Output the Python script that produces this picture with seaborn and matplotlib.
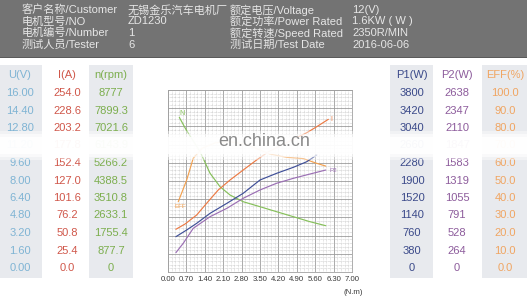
import numpy as np
import pandas as pd
import matplotlib
matplotlib.use("Agg")
import matplotlib.pyplot as plt
import seaborn as sns
from matplotlib.patches import Rectangle
from matplotlib.ticker import MultipleLocator

# ---------------- header info ----------------
info_labels_left = ["客户名称/Customer", "电机型号/NO", "电机编号/Number", "测试人员/Tester"]
info_values_left = ["无锡金乐汽车电机厂", "ZD1230", "1", "6"]
info_labels_right = ["额定电压/Voltage", "额定功率/Power Rated", "额定转速/Speed Rated", "测试日期/Test Date"]
info_values_right = ["12(V)", "1.6KW ( W )", "2350R/MIN", "2016-06-06"]

# ---------------- scale tables ----------------
U_scale = ["16.00", "14.40", "12.80", "11.20", "9.60", "8.00", "6.40", "4.80", "3.20", "1.60", "0.00"]
I_scale = ["254.0", "228.6", "203.2", "177.8", "152.4", "127.0", "101.6", "76.2", "50.8", "25.4", "0.0"]
n_scale = ["8777", "7899.3", "7021.6", "6143.9", "5266.2", "4388.5", "3510.8", "2633.1", "1755.4", "877.7", "0"]
P1_scale = ["3800", "3420", "3040", "2660", "2280", "1900", "1520", "1140", "760", "380", "0"]
P2_scale = ["2638", "2347", "2110", "1847", "1583", "1319", "1055", "791", "528", "264", "0"]
EFF_scale = ["100.0", "90.0", "80.0", "70.0", "60.0", "50.0", "40.0", "30.0", "20.0", "10.0", "0.0"]

torque_ticks = ["0.00", "0.70", "1.40", "2.10", "2.80", "3.50", "4.20", "4.90", "5.60", "6.30", "7.00"]

# ---------------- curves (torque N.m vs value) ----------------
n_T = [0.43, 0.68, 1.22, 1.60, 1.98, 2.36, 2.86, 3.50, 4.13, 4.77, 5.40, 6.00]
n_rpm = [7460, 6882, 5802, 4760, 4114, 3713, 3390, 3149, 2908, 2667, 2426, 2233]

I_T = [0.30, 0.65, 1.09, 1.47, 1.91, 2.36, 2.86, 3.37, 3.82, 5.28, 5.66, 6.10]
I_A = [59.6, 67.0, 79.5, 95.9, 114.4, 128.4, 142.3, 156.3, 167.9, 194.4, 202.8, 213.1]

EFF_T = [0.39, 0.71, 0.96, 1.30, 1.80, 2.40, 3.00, 3.50, 3.88, 4.52, 5.15, 5.66, 6.00]
EFF_pct = [38.6, 50.5, 62.5, 68.0, 71.0, 71.5, 70.0, 67.0, 64.8, 63.0, 62.3, 59.7, 58.2]

P1_T = [0.30, 0.71, 1.09, 1.60, 2.24, 2.86, 3.50, 4.13, 4.77, 5.28, 5.66]
P1_W = [737, 877, 1016, 1225, 1434, 1643, 1921, 2060, 2186, 2303, 2443]

P2_T = [0.30, 0.58, 0.96, 1.60, 2.24, 2.86, 3.50, 4.13, 4.77, 5.40, 6.00]
P2_W = [280, 416, 633, 802, 923, 1068, 1189, 1286, 1358, 1420, 1478]

# ---------------- style ----------------
sns.set_theme(style="white")
plt.rcParams['font.family'] = ['Liberation Sans', 'Noto Sans CJK SC', 'DejaVu Sans']

W, H = 527, 301
fig = plt.figure(figsize=(W / 100, H / 100), dpi=100)
fig.patch.set_facecolor("white")


def fx(px):
    return px / W


def fy(py):
    return 1 - py / H


# header band
fig.add_artist(Rectangle((0, fy(57)), 1, 57 / H, transform=fig.transFigure,
                         facecolor="#737373", edgecolor="none", zorder=0))
fig.add_artist(Rectangle((0, fy(58)), 1, 1.2 / H, transform=fig.transFigure,
                         facecolor="#5a5a5a", edgecolor="none", zorder=0))
hdr_rows = [10, 21.5, 33, 44.5]
hc = "#e6e6e6"
for i, py in enumerate(hdr_rows):
    fig.text(fx(22), fy(py), info_labels_left[i], color=hc, fontsize=8, va="center", ha="left")
    fig.text(fx(128), fy(py), info_values_left[i], color=hc, fontsize=8, va="center", ha="left")
    fig.text(fx(230), fy(py), info_labels_right[i], color=hc, fontsize=8, va="center", ha="left")
    fig.text(fx(352), fy(py), info_values_right[i], color=hc, fontsize=8, va="center", ha="left")

# table column backgrounds
col_bg = "#e8eaee"
for x0, x1 in [(0, 42), (89, 133), (390, 433), (482, 527)]:
    fig.add_artist(Rectangle((fx(x0), fy(278)), (x1 - x0) / W, (278 - 65) / H,
                             transform=fig.transFigure, facecolor=col_bg, edgecolor="none", zorder=0))

columns = [
    ("U(V)", U_scale, 20, "#7fb4d4"),
    ("I(A)", I_scale, 67, "#d0574a"),
    ("n(rpm)", n_scale, 111, "#7cae4e"),
    ("P1(W)", P1_scale, 412, "#3b4a8a"),
    ("P2(W)", P2_scale, 457, "#8d5c9c"),
    ("EFF(%)", EFF_scale, 505, "#f0a562"),
]
row_y = [93, 110.5, 128, 145.5, 163, 180.5, 198, 215.5, 233, 250.5, 268]
for title, vals, cx, col in columns:
    fig.text(fx(cx), fy(75.5), title, color=col, fontsize=8, ha="center", va="center")
    for v, py in zip(vals, row_y):
        fig.text(fx(cx), fy(py), v, color=col, fontsize=8, ha="center", va="center")

# ---------------- chart ----------------
ax = fig.add_axes([fx(168), fy(272), 184 / W, 182 / H])
ax.set_facecolor("white")
ax.set_xlim(0, 7)
ax.set_ylim(0, 10)
ax.set_xticks(np.arange(len(torque_ticks)) * 0.7)
ax.set_xticklabels(torque_ticks, fontsize=5.6, color="#3a3a3a")
ax.xaxis.set_minor_locator(MultipleLocator(0.14))
ax.yaxis.set_major_locator(MultipleLocator(1))
ax.yaxis.set_minor_locator(MultipleLocator(0.2))
ax.set_yticklabels([])
ax.tick_params(axis="both", which="both", length=0, pad=3)
ax.grid(which="major", color="#9c9c9c", linewidth=0.6, linestyle="-")
ax.grid(which="minor", color="#bdbdbd", linewidth=0.45, linestyle=(0, (1, 1.2)))
ax.set_axisbelow(True)
for s in ax.spines.values():
    s.set_color("#a0a0a0")
    s.set_linewidth(0.6)

series = [
    (n_T, n_rpm, float(n_scale[0]), "#86c05a"),
    (EFF_T, EFF_pct, float(EFF_scale[0]), "#f2a04e"),
    (I_T, I_A, float(I_scale[0]), "#ec7a44"),
    (P1_T, P1_W, float(P1_scale[0]), "#3f4f98"),
    (P2_T, P2_W, float(P2_scale[0]), "#9b6fb4"),
]
for xs, ys, vmax, col in series:
    tw = ax.twinx()
    tw.set_ylim(0, vmax)
    tw.set_xlim(0, 7)
    sns.lineplot(x=xs, y=ys, ax=tw, color=col, linewidth=0.85, estimator=None)
    tw.axis("off")

ax.text(0.53, 8.7, "N", color="#86c05a", fontsize=5, ha="center", va="center", zorder=5)
ax.text(6.22, 8.4, "I", color="#ec7a44", fontsize=5, ha="center", va="center", zorder=5)
ax.text(0.45, 3.6, "EFF", color="#f2a04e", fontsize=4.5, ha="center", va="center", zorder=5)
ax.text(6.3, 5.6, "P2", color="#9b6fb4", fontsize=4.5, ha="center", va="center", zorder=5)

fig.text(fx(353), fy(292), "(N.m)", color="#3a3a3a", fontsize=5.6, ha="center", va="center")

# ---------------- watermark band ----------------
for (y0, y1, a) in [(131, 160, 0.4), (134, 157, 0.6), (137, 154, 0.85)]:
    fig.add_artist(Rectangle((0, fy(y1)), 1, (y1 - y0) / H, transform=fig.transFigure,
                             facecolor="white", edgecolor="none", alpha=a, zorder=10))
fig.text(fx(264), fy(142), "en.china.cn", color="#8a8a8a", fontsize=13,
         ha="center", va="center", zorder=11)

fig.savefig("out.png", dpi=100, facecolor="white")
